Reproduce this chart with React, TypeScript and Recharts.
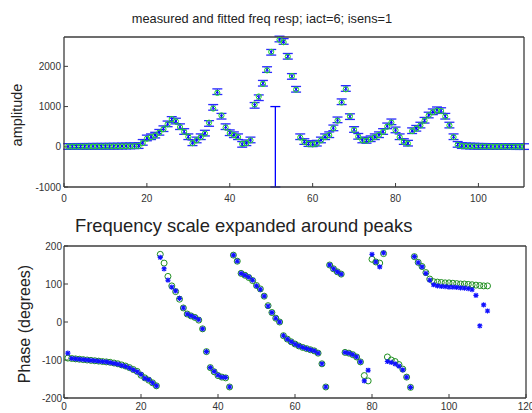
import React from 'react';
import { ScatterChart, Scatter, XAxis, YAxis, ErrorBar } from 'recharts';

// frequency index of each sample
const freqIdx = Array.from({ length: 111 }, (_, i) => i + 1);

// measured amplitude (51 is the bad sample drawn as the tall error bar)
const ampMeasured = [
  8, 8, 9, 9, 10, 10, 11, 12, 12, 13, 14, 15, 16, 18, 20, 22, 25, 30,
  110, 220, 250, 290, 360, 450, 570, 680, 640, 500, 380, 250,
  100, 170, 250, 340, 580, 980, 1370, 760, 500, 350,
  300, 250, 60, 100, 170, 1030, 1220, 1580, 1920, 2350,
  null, 2680, 2620, 2250, 1750, 1430, 250, 130, 80, 75,
  90, 170, 250, 300, 470, 670, 1120, 1450, 750, 430,
  260, 170, 160, 200, 250, 300, 380, 520, 620, 420,
  250, 130, 90, 400, 460, 540, 660, 790, 870, 920,
  900, 760, 540, 250, 60, 30, 22, 18, 15, 12,
  10, 9, 8, 8, 7, 7, 6, 6, 5, 5, 5,
];

const ampFitted = [
  5, 5, 5, 5, 6, 6, 6, 7, 7, 8, 8, 9, 10, 11, 12, 14, 16, 20,
  90, 200, 240, 280, 350, 440, 560, 690, 630, 490, 370, 250,
  90, 160, 240, 330, 600, 950, 1340, 780, 480, 340,
  290, 240, 70, 90, 160, 1050, 1250, 1560, 1900, 2360,
  null, 2660, 2600, 2240, 1760, 1420, 230, 120, 70, 60,
  80, 160, 240, 290, 460, 650, 1100, 1430, 760, 420,
  250, 160, 150, 190, 240, 290, 370, 500, 600, 410,
  240, 120, 80, 390, 450, 530, 650, 780, 860, 900,
  890, 750, 530, 240, 50, 20, 15, 12, 10, 8,
  7, 6, 6, 5, 5, 5, 4, 4, 4, 4, 4,
];

const ampErr = 70;
const badFreq = 51;
const badErr = 1000;

const phaseMeasured = [
  -82, -96, -97, -98, -99, -100, -101, -102, -103, -104,
  -105, -107, -109, -111, -114, -117, -121, -126, -131, -138,
  -148, -152, -160, -168, 170, 140, 110, 92, 82, 62,
  37, 21, 16, 12, 6, -18, -78, -120, -130, -140,
  -145, -146, -171, 176, 160, 128, 123, 118, 110, 95,
  86, 68, 42, 25, 10, 0, -36, -45, -52, -58,
  -63, -67, -70, -73, -76, -82, -110, -171, 150, 140,
  132, 126, -80, -82, -86, -92, -105, -155, -127, 178,
  158, 145, 182, -104, -106, -110, -116, -126, -145, -172,
  172, 156, 145, 128, 110, 98, 95, 94, 93, 92,
  92, 91, 90, 89, 88, 85, 70, -10, 45, 29,
];

const phaseFitted = [
  -95, -96, -97, -98, -99, -100, -101, -102, -103, -104,
  -105, -106, -108, -110, -113, -116, -120, -125, -130, -140,
  -147, -153, -160, -168, 178, 155, 120, 95, 80, 60,
  37, 21, 16, 12, 5, -18, -78, -120, -131, -141,
  -145, -147, -171, 176, 160, 128, 123, 117, 109, 96,
  87, 68, 43, 25, 10, 0, -36, -45, -52, -58,
  -63, -67, -70, -73, -76, -82, -110, -171, 150, 140,
  132, 126, -80, -82, -86, -92, -105, -141, -155, 165,
  158, 155, 180, -92, -100, -104, -112, -124, -145, -172,
  172, 157, 146, 130, 113, 106, 105, 104, 103, 103,
  102, 101, 100, 100, 99, 98, 97, 96, 95, 95,
];

const ampXTicks = [0, 20, 40, 60, 80, 100];
const ampYTicks = [-1000, 0, 1000, 2000];
const phXTicks = [0, 20, 40, 60, 80, 100, 120];
const phYTicks = [-200, -100, 0, 100, 200];

const ampMeasData = freqIdx
  .map((f, i) => ({ f, y: ampMeasured[i], err: ampErr }))
  .filter((d) => d.y != null);
const ampFitData = freqIdx
  .map((f, i) => ({ f, y: ampFitted[i] }))
  .filter((d) => d.y != null);
const badData = [{ f: badFreq, y: 0, err: badErr }];
const phMeasData = freqIdx.slice(0, phaseMeasured.length).map((f, i) => ({ f, y: phaseMeasured[i] }));
const phFitData = freqIdx.slice(0, phaseFitted.length).map((f, i) => ({ f, y: phaseFitted[i] }));

const FONT = '"Liberation Sans", Arial, Helvetica, sans-serif';
const FRAME = '#3c3c3c';
const tickFont = { fontSize: 10, fill: '#333', fontFamily: FONT };
const frameLine = { stroke: FRAME, strokeWidth: 1.3 };

const ring = (color: string, r: number) => (p: any) =>
  <circle cx={p.cx} cy={p.cy} r={r} fill="none" stroke={color} strokeWidth={1} />;

const cross = (p: any) => (
  <path d={`M${p.cx - 2},${p.cy - 2}L${p.cx + 2},${p.cy + 2}M${p.cx - 2},${p.cy + 2}L${p.cx + 2},${p.cy - 2}`}
    stroke="#0000ff" strokeWidth={1} />
);

const star = (p: any) => (
  <path d={`M${p.cx - 2.6},${p.cy}H${p.cx + 2.6}M${p.cx},${p.cy - 2.6}V${p.cy + 2.6}M${p.cx - 2},${p.cy - 2}L${p.cx + 2},${p.cy + 2}M${p.cx - 2},${p.cy + 2}L${p.cx + 2},${p.cy - 2}`}
    stroke="#1010ff" strokeWidth={1.1} />
);

const none = () => <g />;

// top and right edges of the box, with inward ticks; a hidden series keeps them alive
// (a zero-sized axis is not drawn, hence the 1px height / width)
const frameAxes = (xDomain: number[], xTicks: number[], yDomain: number[], yTicks: number[], data: any[]) => [
  <XAxis key="xt" xAxisId="top" orientation="top" type="number" dataKey="f" domain={xDomain} ticks={xTicks}
    allowDataOverflow height={1} tick={false} tickSize={-4} interval={0}
    axisLine={frameLine} tickLine={{ stroke: FRAME }} />,
  <YAxis key="yr" yAxisId="right" orientation="right" type="number" dataKey="y" domain={yDomain} ticks={yTicks}
    allowDataOverflow width={1} tick={false} tickSize={-4} interval={0}
    axisLine={frameLine} tickLine={{ stroke: FRAME }} />,
  <Scatter key="hidden" xAxisId="top" yAxisId="right" data={data} shape={none} isAnimationActive={false} />,
];

const App = () => {
  return (
    <div style={{ position: 'absolute', left: 0, top: 0, width: 532, height: 413, background: '#fff', fontFamily: FONT, overflow: 'hidden' }}>
      <div style={{ position: 'absolute', left: 0, top: 12, width: 524, textAlign: 'center', fontSize: 12.8, lineHeight: '14px', color: '#222' }}>
        measured and fitted freq resp; iact=6; isens=1
      </div>
      <div style={{ position: 'absolute', left: 75, top: 217, fontSize: 18.4, lineHeight: '18px', color: '#222', whiteSpace: 'nowrap' }}>
        Frequency scale expanded around peaks
      </div>
      <div style={{ position: 'absolute', left: 17, top: 115, transform: 'translate(-50%, -50%) rotate(-90deg)', fontSize: 14.5, lineHeight: '15px', color: '#222', whiteSpace: 'nowrap' }}>
        amplitude
      </div>
      <div style={{ position: 'absolute', left: 25, top: 324, transform: 'translate(-50%, -50%) rotate(-90deg)', fontSize: 16, lineHeight: '16px', color: '#222', whiteSpace: 'nowrap' }}>
        Phase (degrees)
      </div>

      <div style={{ position: 'absolute', left: 0, top: 0 }}>
        <ScatterChart width={532} height={205} margin={{ top: 36, right: 7, bottom: 0, left: 14 }}>
          <XAxis type="number" dataKey="f" domain={[0, 111]} ticks={ampXTicks} interval={0} allowDataOverflow
            height={18} tickSize={-4} tickMargin={12} tick={tickFont}
            axisLine={frameLine} tickLine={{ stroke: FRAME }} />
          <YAxis type="number" dataKey="y" domain={[-1000, 2730]} ticks={ampYTicks} interval={0} allowDataOverflow
            width={50} tickSize={-4} tickMargin={7} tick={tickFont}
            axisLine={frameLine} tickLine={{ stroke: FRAME }} />
          {frameAxes([0, 111], ampXTicks, [-1000, 2730], ampYTicks, ampFitData)}
          <Scatter data={badData} shape={none} isAnimationActive={false}>
            <ErrorBar dataKey="err" direction="y" width={5} stroke="#0000ff" strokeWidth={1.3} isAnimationActive={false} />
          </Scatter>
          <Scatter data={ampMeasData} shape={cross} isAnimationActive={false}>
            <ErrorBar dataKey="err" direction="y" width={5} stroke="#2a2aff" strokeWidth={1.3} isAnimationActive={false} />
          </Scatter>
          <Scatter data={ampFitData} shape={ring('#22e022', 2.6)} isAnimationActive={false} />
        </ScatterChart>
      </div>

      <div style={{ position: 'absolute', left: 0, top: 205 }}>
        <ScatterChart width={532} height={208} margin={{ top: 40, right: 5, bottom: 0, left: 14 }}>
          <XAxis type="number" dataKey="f" domain={[0, 120]} ticks={phXTicks} interval={0} allowDataOverflow
            height={15} tickSize={-4} tickMargin={9} tick={tickFont}
            axisLine={frameLine} tickLine={{ stroke: FRAME }} />
          <YAxis type="number" dataKey="y" domain={[-200, 200]} ticks={phYTicks} interval={0} allowDataOverflow
            width={50} tickSize={-4} tickMargin={6} tick={tickFont}
            axisLine={frameLine} tickLine={{ stroke: FRAME }} />
          {frameAxes([0, 120], phXTicks, [-200, 200], phYTicks, phFitData)}
          <Scatter data={phFitData} shape={ring('#1f8f1f', 3)} isAnimationActive={false} />
          <Scatter data={phMeasData} shape={star} isAnimationActive={false} />
        </ScatterChart>
      </div>
    </div>
  );
};

export default App;
